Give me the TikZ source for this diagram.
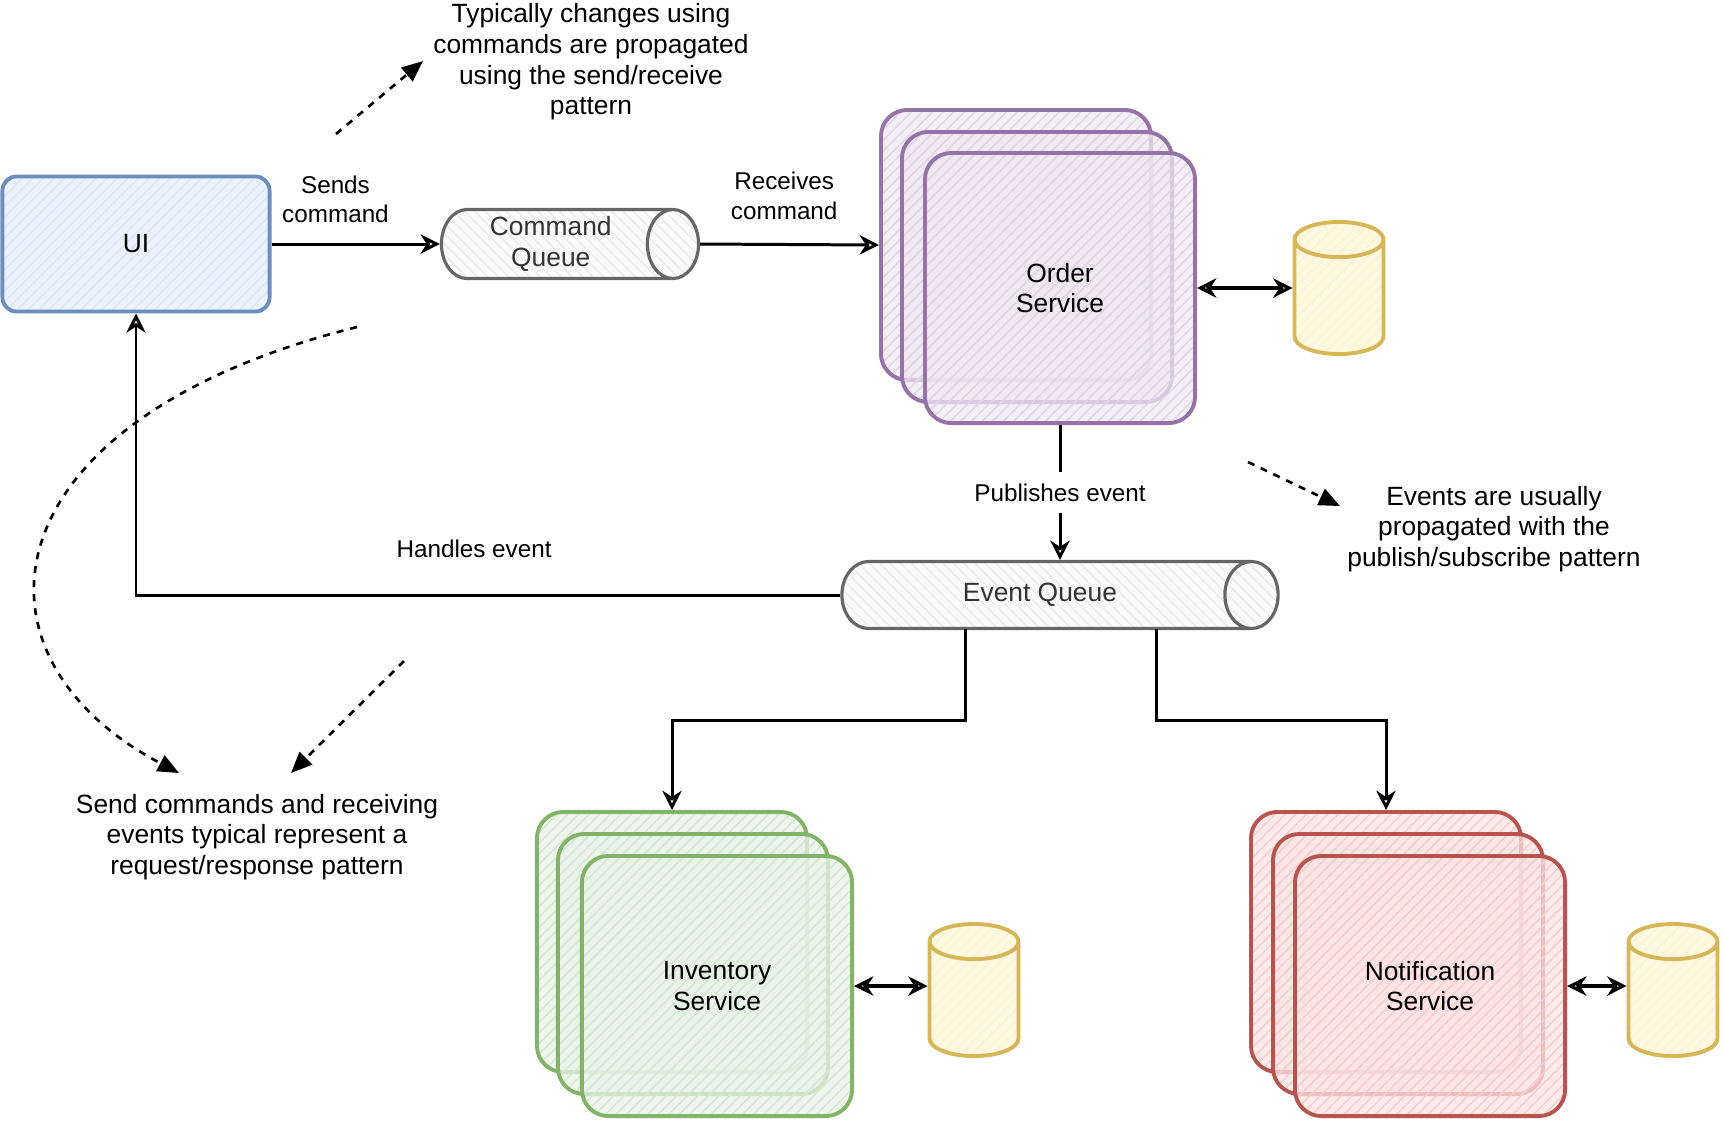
\documentclass[tikz,border=0pt]{standalone}
\usepackage{fontspec}
\setmainfont{Liberation Sans}
\usetikzlibrary{shapes.geometric,arrows.meta,positioning,calc,patterns}

\definecolor{uiline}{HTML}{6C8EBF}
\definecolor{uifill}{HTML}{DAE8FC}
\definecolor{qline}{HTML}{666666}
\definecolor{qfill}{HTML}{F5F5F5}
\definecolor{ordline}{HTML}{9673A6}
\definecolor{ordfill}{HTML}{E1D5E7}
\definecolor{dbline}{HTML}{D6B656}
\definecolor{dbfill}{HTML}{FFF2CC}
\definecolor{invline}{HTML}{82B366}
\definecolor{invfill}{HTML}{D5E8D4}
\definecolor{notline}{HTML}{B85450}
\definecolor{notfill}{HTML}{F8CECC}

\begin{document}
\begin{tikzpicture}[x=0.01cm, y=-0.01cm,
    font=\fontsize{7.5}{8.7}\selectfont,
    hatch/.style 2 args={preaction={fill=#2!55}, preaction={pattern=north east lines, pattern color=#2}, draw=#1},
    hatchq/.style 2 args={preaction={fill=#2!55}, preaction={pattern=north west lines, pattern color=black!7}, draw=#1},
    box/.style={line width=1.1pt, rounded corners=4pt, minimum width=2.67cm, minimum height=1.35cm},
    svc/.style={line width=1.1pt, rounded corners=7.5pt, minimum width=2.7cm, minimum height=2.6cm, fill opacity=0.75, text opacity=1, align=center},
    queue/.style={cylinder, anchor=shape center, inner sep=1pt, line width=0.9pt, hatchq={qline}{qfill}, text=black!80, align=center},
    db/.style={cylinder, anchor=shape center, shape border rotate=90, aspect=1.5, line width=1.1pt, minimum width=0.89cm, minimum height=1.32cm, hatch={dbline}{dbfill}},
    flow/.style={-{Stealth[open, length=5.5pt, width=5.5pt]}, line width=0.85pt},
    both/.style={{Stealth[open, length=5.5pt, width=5.5pt]}-{Stealth[open, length=5.5pt, width=5.5pt]}, line width=1pt},
    note/.style={-{Triangle[length=6pt, width=5pt]}, dash pattern={on 2pt off 2pt}, line width=0.75pt},
    lbl/.style={font=\fontsize{6.9}{8.3}\selectfont, align=center},
    txt/.style={align=center},
]
\useasboundingbox (0,0) rectangle (1725,1129);

% UI and command side
\node[box, hatch={uiline}{uifill}] (ui) at (136,244) {UI};
\node[queue, aspect=0.83, minimum height=2.57cm, minimum width=0.69cm] (cq) at (570,244) {Command\\Queue};

% Order service (stacked)
\node[svc, hatch={ordline}{ordfill}, minimum height=2.7cm] (ordb) at (1016,245) {};
\node[svc, hatch={ordline}{ordfill}, minimum height=2.7cm] (ordm) at (1037,267) {};
\node[svc, hatch={ordline}{ordfill}, minimum height=2.7cm] (ord) at (1060,288) {Order\\Service};
\node[db] (db1) at (1339,288) {};

% Event queue
\node[queue, aspect=1.75, minimum height=4.36cm, minimum width=0.67cm] (eq) at (1060,595) {Event Queue};

% Inventory service (stacked)
\node[svc, hatch={invline}{invfill}] (invb) at (672,942) {};
\node[svc, hatch={invline}{invfill}] (invm) at (693,964) {};
\node[svc, hatch={invline}{invfill}] (inv) at (717,986) {Inventory\\Service};
\node[db] (db2) at (974,990) {};

% Notification service (stacked)
\node[svc, hatch={notline}{notfill}] (notifb) at (1386,942) {};
\node[svc, hatch={notline}{notfill}] (notifm) at (1408,964) {};
\node[svc, hatch={notline}{notfill}] (notif) at (1430,986) {Notification\\Service};
\node[db] (db3) at (1673,990) {};

% Notes
\node[txt] (cmdnote) at (591,62) {Typically changes using\\commands are propagated\\using the send/receive\\pattern};
\node[txt] (evtnote) at (1494,529) {Events are usually\\propagated with the\\publish/subscribe pattern};
\node[txt] (rrnote) at (257,837) {Send commands and receiving\\events typical represent a\\request/response pattern};

% Flows
\draw[flow] (ui.east) -- node[lbl, pos=0.38, above=0.08cm] {Sends\\command} (cq.west);
\draw[flow] (cq.east) -- node[lbl, pos=0.47, above=0.12cm] {Receives\\command} (ordb.west);
\draw[flow] (ord.south) -- node[lbl, fill=white] {Publishes event} (ord.south |- eq.north);
\draw[flow] (eq.west) -| node[lbl, pos=0.26, above=0.24cm] {Handles event} (ui.south);
\draw[flow] ($(eq.shape center)+(-95,34)$) -- ++(0,91) -| (invb.north);
\draw[flow] ($(eq.shape center)+(96,34)$) -- ++(0,91) -| (notifb.north);
\draw[both] (ord.east) -- (ord.east -| db1.west);
\draw[both] (inv.east) -- (inv.east -| db2.west);
\draw[both] (notif.east) -- (notif.east -| db3.west);

% Note arrows
\coordinate (n1s) at (336,134);
\coordinate (n1e) at (423,61);
\coordinate (n2s) at (1248,462);
\coordinate (n2e) at (1340,506);
\coordinate (n3s) at (357,327);
\coordinate (n3e) at (179,773);
\coordinate (n4s) at (404,661);
\coordinate (n4e) at (291,773);
\draw[note] (n1s) -- (n1e);
\draw[note] (n2s) -- (n2e);
\draw[note] (n3s) .. controls (-15,420) and (-45,655) .. (n3e);
\draw[note] (n4s) -- (n4e);
\end{tikzpicture}
\end{document}
